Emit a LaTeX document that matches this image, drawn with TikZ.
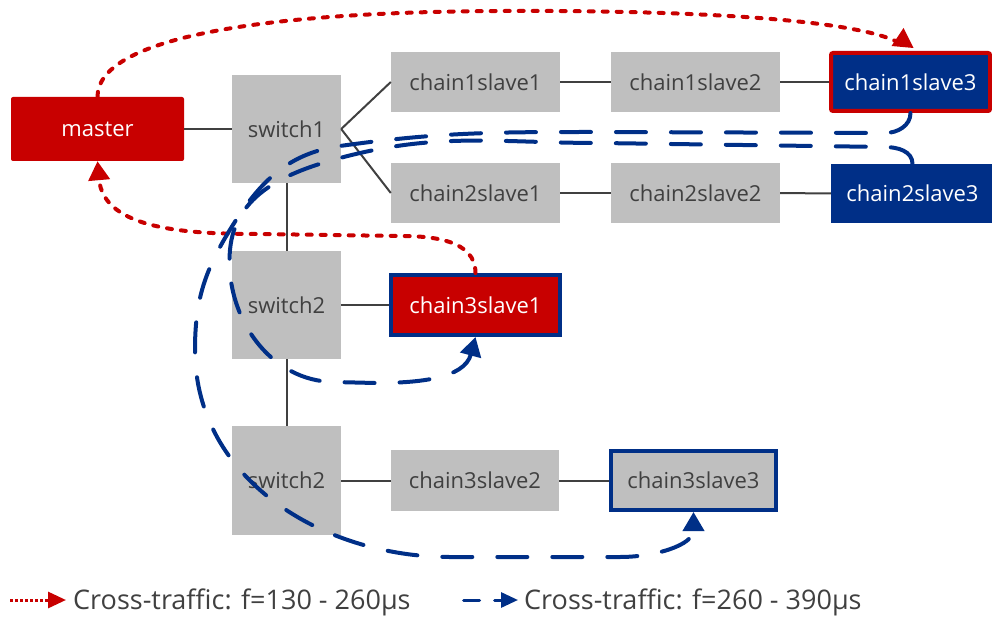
\documentclass[tikz,border=0pt]{standalone}
\usepackage{fontspec}
\setmainfont{Open Sans}
\usetikzlibrary{arrows.meta,calc}
\definecolor{boxgrey}{HTML}{BFBFBF}
\definecolor{darkred}{RGB}{200,0,0}
\definecolor{navy}{RGB}{0,47,135}
\definecolor{txtgrey}{HTML}{404040}
\begin{document}
\begin{tikzpicture}[x=1pt,y=-1pt,
  box/.style={rectangle, inner sep=0pt, font=\fontsize{22}{26}\selectfont},
  greybox/.style={box, fill=boxgrey, text=txtgrey},
  redbox/.style={box, fill=darkred, text=white},
  navybox/.style={box, fill=navy, text=white},
  chainsize/.style={minimum width=169pt, minimum height=60pt},
  switchsize/.style={minimum width=109pt, minimum height=108pt},
  link/.style={draw=txtgrey, line width=2pt},
  reddot/.style={draw=darkred, line width=4pt, line cap=round, dash pattern=on 5pt off 9pt},
  bluedash/.style={draw=navy, line width=4pt, line cap=round, dash pattern=on 30pt off 25pt},
  redtip/.style={-{Triangle[length=19pt,width=21pt]}},
  bluetip/.style={-{Triangle[length=19pt,width=21pt]}},
  legendtext/.style={anchor=base west, inner sep=0pt, text=txtgrey, font=\fontsize{27}{32}\selectfont}
]
\useasboundingbox (0,0) rectangle (992,617);

% nodes
\node[redbox, minimum width=173pt, minimum height=64pt, rounded corners=2pt] (master) at (97.5,129) {master};
\node[greybox, switchsize] (sw1) at (286.5,129) {switch1};
\node[greybox, chainsize] (c1s1) at (475.5,82) {chain1slave1};
\node[greybox, chainsize] (c1s2) at (695.5,82) {chain1slave2};
\node[navybox, draw=darkred, line width=4pt, rounded corners=2pt, minimum width=159pt, minimum height=58pt] (c1s3) at (910.5,82) {chain1slave3};
\node[greybox, chainsize] (c2s1) at (475.5,193) {chain2slave1};
\node[greybox, chainsize] (c2s2) at (695.5,193) {chain2slave2};
\node[navybox, minimum width=163pt, minimum height=59pt] (c2s3) at (912.5,193.5) {chain2slave3};
\node[greybox, switchsize] (sw2a) at (286.5,305) {switch2};
\node[redbox, draw=navy, line width=4pt, minimum width=169pt, minimum height=60pt] (c3s1) at (475.5,305) {chain3slave1};
\node[greybox, minimum width=109pt, minimum height=109pt] (sw2b) at (286.5,480.5) {switch2};
\node[greybox, minimum width=168pt, minimum height=61pt] (c3s2) at (475,480.5) {chain3slave2};
\node[greybox, draw=navy, line width=4pt, minimum width=165pt, minimum height=59pt] (c3s3) at (693.5,480.5) {chain3slave3};

% links
\draw[link] (master.east) -- (sw1.west);
\draw[link] (sw1.east) -- (c1s1.west);
\draw[link] (sw1.east) -- (c2s1.west);
\draw[link] (c1s1) -- (c1s2);
\draw[link] (c1s2) -- (c1s3);
\draw[link] (c2s1) -- (c2s2);
\draw[link] (c2s2) -- (c2s3);
\draw[link] (sw1.south) -- (sw2a.north);
\draw[link] (sw2a) -- (c3s1);
\draw[link] (sw2a.south) -- (sw2b.north);
\draw[link] (sw2b) -- (c3s2);
\draw[link] (c3s2) -- (c3s3);

% red dotted cross-traffic
\coordinate (rend) at ($(c1s3.north)+(-15,-10)$);
\draw[reddot] (master.north) .. controls (97.5,40) and (250,12) .. (500,11)
  .. controls (700,10) and (850,20) .. (rend);
\fill[darkred] ($(c1s3.north)+(-7,-23)$) -- ($(c1s3.north)+(-19,-5)$) -- ($(c1s3.north)+(3,-3)$) -- cycle;

\draw[reddot, redtip] (c3s1.north) to[out=90,in=0] (400,236) -- (260,234) to[out=180,in=275] (master.south);

% blue dashed cross-traffic
\draw[bluedash, bluetip] (c1s3.south) to[out=270,in=0] (885,133) -- (600,132)
  to[out=180,in=8] (340,146) to[out=188,in=59] (228,233)
  to[out=239,in=90] (195,350) to[out=270,in=180] (450,557)
  -- (620,557) to[out=0,in=270] (c3s3.south);
\draw[bluedash, bluetip] (c2s3.north) to[out=90,in=0] (885,147) -- (600,143)
  to[out=180,in=15] (340,158) to[out=195,in=85] (230,250)
  to[out=265,in=180] (335,382) -- (375,383) to[out=0,in=255] (c3s1.south);

% legend
\coordinate (l1a) at (10,600);
\coordinate (l1b) at (66,600);
\draw[draw=darkred, line width=3pt, dash pattern=on 3pt off 2pt, -{Triangle[length=18pt,width=16pt]}] (l1a) -- (l1b);
\node[legendtext] (leg1) at (73,609.5) {Cross-traffic: f=130 - 260µs};
\coordinate (l2a) at (463.5,600);
\coordinate (l2b) at (518,600);
\draw[draw=navy, line width=3pt, line cap=round, dash pattern=on 16pt off 15pt, -{Triangle[length=17pt,width=15pt]}] (l2a) -- (l2b);
\node[legendtext] (leg2) at (524,609.5) {Cross-traffic: f=260 - 390µs};
\end{tikzpicture}
\end{document}
